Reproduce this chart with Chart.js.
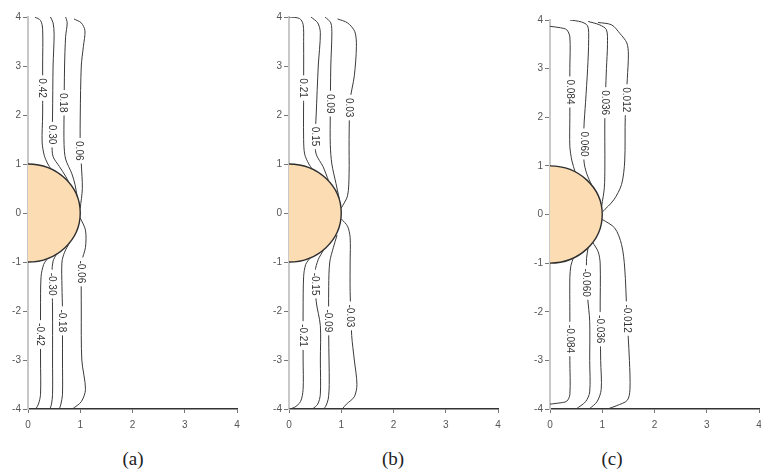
<!DOCTYPE html>
<html>
<head>
<meta charset="utf-8">
<script src="https://cdn.jsdelivr.net/npm/chart.js@4.4.1/dist/chart.umd.min.js"></script>
<style>
  body { margin: 0; background: #fff; width: 761px; height: 471px; overflow: hidden; position: relative; }
  canvas { position: absolute; top: 0; }
  .cap { position: absolute; top: 448px; font: 19px "Liberation Serif", "Times New Roman", serif; color: #222; transform: translateX(-50%); }
</style>
</head>
<body>
<canvas id="panelA" width="254" height="440" style="left:0px"></canvas>
<canvas id="panelB" width="254" height="440" style="left:261px"></canvas>
<canvas id="panelC" width="254" height="440" style="left:522px"></canvas>
<div class="cap" style="left:133px">(a)</div>
<div class="cap" style="left:393px">(b)</div>
<div class="cap" style="left:612px">(c)</div>
<script>
const xTicks = [0, 1, 2, 3, 4];
const yTicks = [-4, -3, -2, -1, 0, 1, 2, 3, 4];
const diskRadius = 1;

// panel (a)
const levelsA = ['0.42', '0.30', '0.18', '0.06', '-0.06', '-0.18', '-0.30', '-0.42'];
const linesA = [
  [[0.13, 4.0], [0.24, 3.93], [0.28, 3.75], [0.28, 3.0], [0.28, 2.0], [0.27, 1.45], [0.31, 1.18], [0.38, 1.0], [0.44, 0.9]],
  [[0.43, 4.0], [0.48, 3.88], [0.5, 3.65], [0.48, 3.0], [0.47, 2.0], [0.46, 1.4], [0.48, 1.15], [0.6, 0.95], [0.72, 0.75], [0.78, 0.63]],
  [[0.72, 4.0], [0.75, 3.88], [0.72, 3.6], [0.7, 3.0], [0.69, 2.0], [0.69, 1.4], [0.72, 1.1], [0.84, 0.8], [0.9, 0.58], [0.94, 0.34]],
  [[0.88, 3.96], [1.02, 3.88], [1.09, 3.72], [1.06, 3.4], [1.02, 3.0], [1.0, 2.0], [1.0, 1.4], [1.02, 1.0], [1.04, 0.5], [1.0, 0.1]],
  [[1.0, -0.1], [1.1, -0.35], [1.1, -0.7], [1.03, -1.0], [1.02, -2.0], [1.03, -3.0], [1.1, -3.6], [1.02, -3.85], [0.85, -4.0]],
  [[0.8, -0.6], [0.7, -0.8], [0.65, -1.0], [0.65, -1.5], [0.66, -2.0], [0.66, -3.0], [0.66, -3.7], [0.63, -3.9], [0.6, -4.0]],
  [[0.55, -0.83], [0.48, -0.98], [0.46, -1.2], [0.47, -2.0], [0.47, -3.0], [0.47, -3.7], [0.45, -3.9], [0.42, -4.0]],
  [[0.38, -0.92], [0.3, -1.05], [0.25, -1.3], [0.24, -2.0], [0.24, -3.0], [0.24, -3.7], [0.2, -3.9], [0.15, -4.0]]
];
const labelAtA = [[0.27, 2.55], [0.46, 1.6], [0.67, 2.25], [0.99, 1.27], [1.01, -1.2], [0.65, -2.2], [0.46, -1.45], [0.24, -2.48]];

// panel (b)
const levelsB = ['0.21', '0.15', '0.09', '0.03', '-0.03', '-0.09', '-0.15', '-0.21'];
const linesB = [
  [[0.0, 4.0], [0.2, 3.97], [0.27, 3.85], [0.28, 3.5], [0.28, 2.5], [0.28, 1.5], [0.3, 1.2], [0.38, 1.0], [0.45, 0.89]],
  [[0.42, 4.0], [0.55, 3.88], [0.6, 3.68], [0.56, 3.0], [0.52, 2.0], [0.5, 1.5], [0.52, 1.2], [0.65, 0.95], [0.76, 0.65]],
  [[0.69, 4.0], [0.8, 3.88], [0.82, 3.65], [0.8, 3.0], [0.79, 2.0], [0.79, 1.4], [0.82, 1.0], [0.9, 0.6], [0.96, 0.3]],
  [[0.93, 3.96], [1.12, 3.88], [1.26, 3.7], [1.29, 3.4], [1.25, 2.8], [1.17, 2.3], [1.15, 1.5], [1.15, 0.8], [1.12, 0.35], [1.0, 0.1]],
  [[1.0, -0.12], [1.12, -0.27], [1.17, -0.5], [1.17, -1.0], [1.17, -1.6], [1.2, -2.5], [1.25, -3.0], [1.3, -3.5], [1.25, -3.75], [1.1, -3.9], [1.02, -4.0]],
  [[0.92, -0.45], [0.85, -0.7], [0.78, -1.0], [0.76, -1.5], [0.76, -2.5], [0.77, -3.5], [0.75, -3.8], [0.7, -3.95], [0.66, -4.0]],
  [[0.66, -0.76], [0.56, -0.95], [0.5, -1.2], [0.52, -1.8], [0.6, -2.3], [0.6, -3.0], [0.6, -3.7], [0.55, -3.9], [0.45, -4.0]],
  [[0.41, -0.91], [0.32, -1.05], [0.28, -1.3], [0.27, -2.0], [0.27, -3.0], [0.27, -3.6], [0.22, -3.85], [0.1, -3.97], [0.0, -4.0]]
];
const labelAtB = [[0.27, 2.55], [0.5, 1.56], [0.79, 2.23], [1.15, 2.15], [1.17, -2.1], [0.76, -2.2], [0.5, -1.45], [0.27, -2.5]];

// panel (c)
const levelsC = ['0.084', '0.060', '0.036', '0.012', '-0.012', '-0.036', '-0.060', '-0.084'];
const linesC = [
  [[0.0, 3.87], [0.2, 3.84], [0.32, 3.8], [0.38, 3.65], [0.38, 3.0], [0.38, 2.0], [0.38, 1.4], [0.42, 1.1], [0.48, 0.88]],
  [[0.38, 4.0], [0.6, 3.96], [0.72, 3.88], [0.74, 3.6], [0.72, 3.0], [0.68, 2.3], [0.65, 1.8], [0.65, 1.1], [0.7, 0.85], [0.8, 0.6]],
  [[0.73, 3.97], [0.95, 3.9], [1.08, 3.8], [1.1, 3.5], [1.08, 3.0], [1.05, 2.0], [1.05, 1.0], [1.04, 0.55], [0.99, 0.18]],
  [[0.92, 3.95], [1.18, 3.9], [1.34, 3.72], [1.47, 3.53], [1.5, 3.3], [1.48, 2.8], [1.44, 2.0], [1.43, 1.1], [1.37, 0.62], [1.22, 0.3], [1.0, 0.05]],
  [[1.0, -0.1], [1.24, -0.28], [1.37, -0.62], [1.43, -1.1], [1.47, -2.0], [1.52, -3.0], [1.53, -3.6], [1.48, -3.82], [1.28, -3.93], [1.1, -4.0]],
  [[0.82, -0.58], [0.92, -0.76], [0.96, -1.0], [0.96, -2.0], [0.97, -3.0], [0.98, -3.6], [0.9, -3.85], [0.75, -4.0]],
  [[0.73, -0.68], [0.7, -0.9], [0.7, -1.2], [0.72, -1.7], [0.76, -2.2], [0.76, -3.0], [0.76, -3.65], [0.68, -3.85], [0.5, -4.0]],
  [[0.45, -0.89], [0.4, -1.05], [0.38, -1.3], [0.38, -2.0], [0.38, -3.0], [0.38, -3.7], [0.32, -3.84], [0.15, -3.88], [0.0, -3.9]]
];
const labelAtC = [[0.38, 2.52], [0.65, 1.45], [1.05, 2.3], [1.45, 2.36], [1.47, -2.14], [0.96, -2.36], [0.7, -1.4], [0.38, -2.56]];

// half disk of radius 1 sitting on the symmetry axis
const halfDisk = {
  id: 'halfDisk',
  beforeDatasetsDraw(chart) {
    const { ctx, scales: { x, y } } = chart;
    const cx = x.getPixelForValue(0), cy = y.getPixelForValue(0);
    const rx = x.getPixelForValue(diskRadius) - cx;
    const ry = cy - y.getPixelForValue(diskRadius);
    ctx.save();
    ctx.beginPath();
    ctx.ellipse(cx, cy, rx, ry, 0, -Math.PI / 2, Math.PI / 2);
    ctx.closePath();
    ctx.fillStyle = '#fcdcb3';
    ctx.fill();
    ctx.beginPath();
    ctx.ellipse(cx, cy, rx, ry, 0, -Math.PI / 2, Math.PI / 2);
    ctx.strokeStyle = '#2e2e2e';
    ctx.lineWidth = 1.4;
    ctx.stroke();
    ctx.restore();
  }
};

// rotated level values sitting in a gap of their line
const levelLabels = {
  id: 'levelLabels',
  afterDatasetsDraw(chart, args, opts) {
    const { ctx, scales: { x, y } } = chart;
    ctx.save();
    ctx.font = '10px "Liberation Sans", Arial, sans-serif';
    ctx.textAlign = 'center';
    ctx.textBaseline = 'middle';
    opts.at.forEach((p, i) => {
      const text = opts.levels[i];
      ctx.save();
      ctx.translate(x.getPixelForValue(p[0]), y.getPixelForValue(p[1]));
      ctx.rotate(Math.PI / 2);
      const w = ctx.measureText(text).width;
      ctx.fillStyle = '#fff';
      ctx.fillRect(-w / 2 - 3, -5, w + 6, 10);
      ctx.fillStyle = '#333';
      ctx.fillText(text, 0, 0.5);
      ctx.restore();
    });
    ctx.restore();
  }
};

function drawPanel(id, lines, levels, labelAt, top) {
  const datasets = lines.map((pts, i) => ({
    label: levels[i],
    data: pts.map(p => ({ x: p[0], y: p[1] })),
    showLine: true,
    borderColor: '#3a3a3a',
    borderWidth: 1,
    pointRadius: 0,
    tension: 0.3,
    fill: false
  }));

  new Chart(document.getElementById(id), {
    type: 'scatter',
    data: { datasets: datasets },
    options: {
      responsive: false,
      animation: false,
      devicePixelRatio: 1,
      layout: { padding: { top: top, right: 17, left: 0, bottom: 0 } },
      plugins: {
        legend: { display: false },
        tooltip: { enabled: false },
        levelLabels: { levels: levels, at: labelAt }
      },
      scales: {
        x: {
          type: 'linear', min: 0, max: 4,
          afterBuildTicks: s => { s.ticks = xTicks.map(v => ({ value: v })); },
          afterFit: s => { s.height = 31; },
          grid: { drawOnChartArea: false, tickLength: 4, color: '#777' },
          border: { color: '#333', width: 1.5 },
          ticks: { color: '#555', padding: 6, font: { size: 10, family: '"Liberation Sans", Arial, sans-serif' } }
        },
        y: {
          type: 'linear', min: -4, max: 4, z: 1,
          afterBuildTicks: s => { s.ticks = yTicks.map(v => ({ value: v })); },
          afterFit: s => { s.width = 28; },
          grid: { drawOnChartArea: false, tickLength: 5, color: '#777' },
          border: { color: '#c8c8c8', width: 2 },
          ticks: { color: '#555', padding: 2, font: { size: 10, family: '"Liberation Sans", Arial, sans-serif' } }
        }
      }
    },
    plugins: [halfDisk, levelLabels]
  });
}

drawPanel('panelA', linesA, levelsA, labelAtA, 17);
drawPanel('panelB', linesB, levelsB, labelAtB, 17);
drawPanel('panelC', linesC, levelsC, labelAtC, 20);
</script>
</body>
</html>
